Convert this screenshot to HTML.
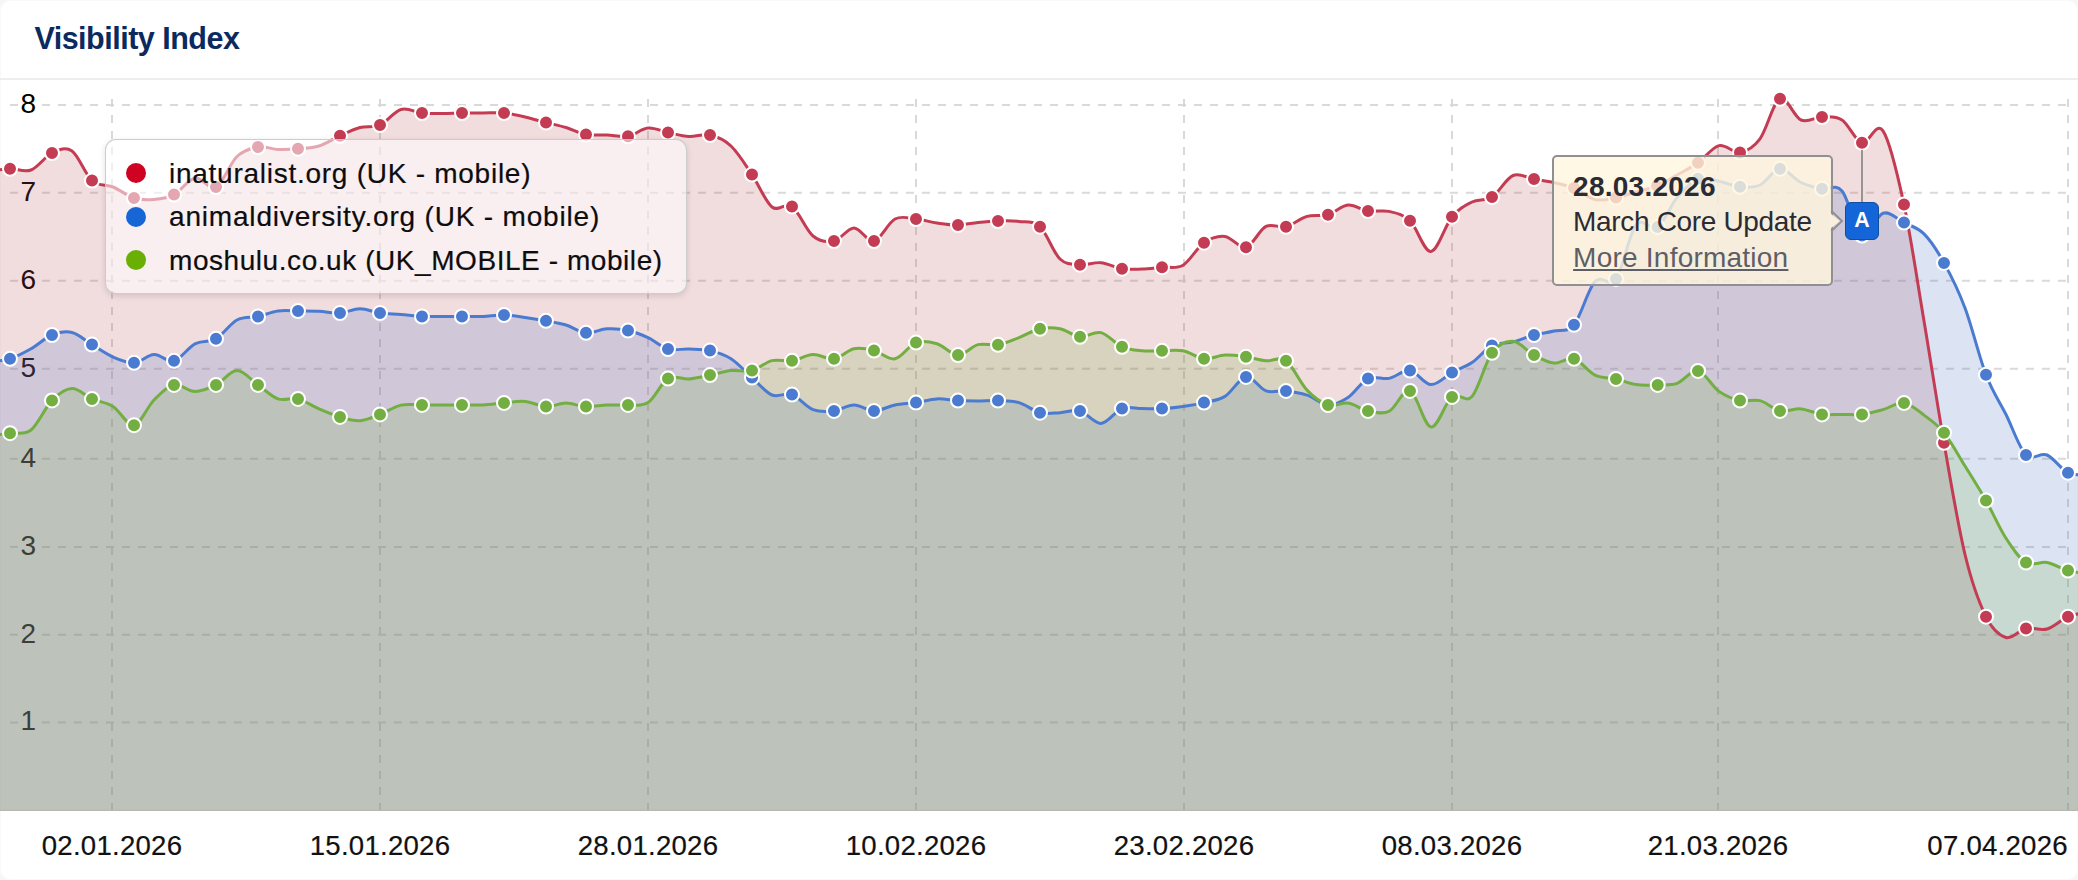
<!DOCTYPE html>
<html lang="en"><head><meta charset="utf-8"><title>Visibility Index</title>
<style>
html,body{margin:0;padding:0}
body{width:2078px;height:880px;overflow:hidden;background:#f6f6f6;font-family:"Liberation Sans",sans-serif;position:relative}
.card{position:absolute;left:0;top:0;width:2078px;height:880px;background:#fff;box-shadow:inset 0 0 0 1px #f9f9f9;border-radius:10.5px;overflow:hidden}
.title{position:absolute;left:34.4px;top:18px;font-size:30.5px;line-height:40px;font-weight:700;color:#0b2a5e;white-space:nowrap;letter-spacing:-0.5px}
.sep{position:absolute;left:0;top:77.7px;width:2078px;height:2.2px;background:#eeeeee}
.chart{position:absolute;left:0;top:0}
.yl text{font-size:28px;fill:#000}
.xl text{font-size:27.6px;fill:#111;letter-spacing:.25px;stroke:#111;stroke-width:.2px}
.legend{position:absolute;left:104.5px;top:138.5px;width:582.5px;height:155px;box-sizing:border-box;border:1.5px solid rgba(200,200,200,.9);border-radius:11px;background:rgba(255,255,255,.55);box-shadow:0 2px 6px rgba(0,0,0,.12)}
.legend .it{-webkit-text-stroke:.2px #0d0d0d;position:absolute;left:0;height:40px;line-height:40px;font-size:28px;color:#0d0d0d;white-space:nowrap}
.legend .dot{position:absolute;left:20px;width:20px;height:20px;border-radius:50%}
.legend .tx{position:absolute;left:63.5px;top:0}
.tip{position:absolute;left:1551.5px;top:155.2px;width:281.3px;height:130.8px;box-sizing:border-box;border:2px solid #909094;border-radius:5px;background:rgba(255,246,221,.8);color:#2b2b33}
.tip svg{position:absolute;left:277.5px;top:49.5px;overflow:visible}
.tip div{position:absolute;left:19.6px;white-space:nowrap;font-size:28px;line-height:36px}
.tip .d{top:11.6px;font-weight:700;letter-spacing:.25px}
.tip .n{top:46.7px;letter-spacing:-.34px}
.tip .m{top:82.5px;color:#5e5e66;text-decoration:underline;text-decoration-thickness:1.6px;text-underline-offset:2.2px;letter-spacing:.23px}
.flag{position:absolute;left:1845.2px;top:201.8px;width:33.8px;height:38px;box-sizing:border-box;border:1.6px solid #0f4fa0;border-radius:6px;background:#1465d8;color:#fff;font-weight:700;font-size:21.4px;line-height:34.2px;text-align:center}
</style></head><body>
<div class="card">
<div class="title">Visibility Index</div>
<div class="sep"></div>
<svg class="chart" width="2078" height="880" viewBox="0 0 2078 880">
<defs><clipPath id="plot"><rect x="0" y="80" width="2078" height="730.6"/></clipPath></defs>
<g stroke="#d9d9d9" stroke-width="2" stroke-dasharray="8 8" fill="none">
<path d="M10 105.0H18"/><path d="M42 105.0H2067"/>
<path d="M10 192.8H18"/><path d="M42 192.8H2067"/>
<path d="M10 280.8H18"/><path d="M42 280.8H2067"/>
<path d="M10 368.8H18"/><path d="M42 368.8H2067"/>
<path d="M10 458.8H18"/><path d="M42 458.8H2067"/>
<path d="M10 546.9H18"/><path d="M42 546.9H2067"/>
<path d="M10 634.7H18"/><path d="M42 634.7H2067"/>
<path d="M10 722.6H18"/><path d="M42 722.6H2067"/>
<path d="M112.0 99V810"/>
<path d="M380.0 99V810"/>
<path d="M648.0 99V810"/>
<path d="M916.0 99V810"/>
<path d="M1184.0 99V810"/>
<path d="M1452.0 99V810"/>
<path d="M1718.0 99V810"/>
<path d="M2068.0 99V810"/>
</g>
<g class="yl"><text x="20.6" y="112.8">8</text><text x="20.6" y="200.6">7</text><text x="20.6" y="288.6">6</text><text x="20.6" y="376.6">5</text><text x="20.6" y="466.6">4</text><text x="20.6" y="554.7">3</text><text x="20.6" y="642.5">2</text><text x="20.6" y="730.4">1</text></g>
<g clip-path="url(#plot)">
<path d="M-10.0 171.0C-6.7 170.6 3.2 169.0 10.0 168.8C16.8 168.6 24.0 172.6 31.0 170.0C38.0 167.4 45.2 156.2 52.0 153.0C58.8 149.8 65.3 146.4 72.0 151.0C78.7 155.6 85.2 174.6 92.0 180.6C98.8 186.6 106.0 184.1 113.0 187.0C120.0 189.9 127.2 195.9 134.0 198.0C140.8 200.1 147.3 200.1 154.0 199.5C160.7 198.9 167.2 198.2 174.0 194.6C180.8 191.0 188.0 179.3 195.0 178.0C202.0 176.7 209.0 190.6 216.0 187.0C223.0 183.4 230.0 163.2 237.0 156.5C244.0 149.8 251.2 148.2 258.0 147.0C264.8 145.8 271.3 149.2 278.0 149.5C284.7 149.8 291.2 149.4 298.0 148.8C304.8 148.2 312.0 148.2 319.0 146.0C326.0 143.8 333.2 138.9 340.0 135.8C346.8 132.7 353.3 129.3 360.0 127.5C366.7 125.7 373.2 128.0 380.0 125.0C386.8 122.0 394.0 111.5 401.0 109.5C408.0 107.5 415.2 112.3 422.0 113.0C428.8 113.7 435.3 113.5 442.0 113.5C448.7 113.5 455.2 113.1 462.0 113.0C468.8 112.9 476.0 113.0 483.0 113.0C490.0 113.0 497.0 112.3 504.0 113.0C511.0 113.7 518.0 115.4 525.0 117.0C532.0 118.6 539.2 120.8 546.0 122.5C552.8 124.2 559.3 125.5 566.0 127.5C572.7 129.5 579.2 133.2 586.0 134.5C592.8 135.8 600.0 134.7 607.0 135.0C614.0 135.3 621.2 137.5 628.0 136.3C634.8 135.1 641.3 128.6 648.0 128.0C654.7 127.4 661.2 131.1 668.0 132.5C674.8 133.9 682.0 136.1 689.0 136.5C696.0 136.9 703.0 133.4 710.0 135.0C717.0 136.6 724.0 139.4 731.0 146.0C738.0 152.6 745.2 164.4 752.0 174.6C758.8 184.8 765.3 201.7 772.0 207.0C778.7 212.3 785.2 201.8 792.0 206.6C798.8 211.4 806.0 230.3 813.0 236.0C820.0 241.7 827.2 242.3 834.0 241.0C840.8 239.7 847.3 228.0 854.0 228.0C860.7 228.0 867.2 242.5 874.0 241.0C880.8 239.5 888.0 222.7 895.0 219.0C902.0 215.3 909.0 218.3 916.0 219.0C923.0 219.7 930.0 222.0 937.0 223.0C944.0 224.0 951.2 225.1 958.0 225.0C964.8 224.9 971.3 223.2 978.0 222.5C984.7 221.8 991.2 221.2 998.0 221.0C1004.8 220.8 1012.0 220.5 1019.0 221.4C1026.0 222.3 1033.2 220.4 1040.0 226.7C1046.8 233.0 1053.3 252.7 1060.0 259.0C1066.7 265.3 1073.2 264.1 1080.0 264.7C1086.8 265.3 1094.0 262.0 1101.0 262.7C1108.0 263.4 1115.2 267.6 1122.0 268.7C1128.8 269.8 1135.3 269.2 1142.0 269.0C1148.7 268.8 1155.2 267.8 1162.0 267.2C1168.8 266.6 1176.0 269.3 1183.0 265.2C1190.0 261.1 1197.0 247.5 1204.0 242.7C1211.0 237.9 1218.0 235.7 1225.0 236.4C1232.0 237.2 1239.2 248.9 1246.0 247.2C1252.8 245.5 1259.3 229.8 1266.0 226.4C1272.7 223.0 1279.2 228.4 1286.0 226.7C1292.8 225.0 1300.0 218.4 1307.0 216.4C1314.0 214.4 1321.2 216.6 1328.0 214.7C1334.8 212.8 1341.3 205.6 1348.0 205.0C1354.7 204.4 1361.2 210.0 1368.0 211.1C1374.8 212.2 1382.0 209.8 1389.0 211.4C1396.0 213.0 1403.0 214.0 1410.0 220.7C1417.0 227.4 1424.0 252.1 1431.0 251.4C1438.0 250.7 1445.2 224.9 1452.0 216.7C1458.8 208.5 1465.3 205.3 1472.0 202.0C1478.7 198.7 1485.2 201.5 1492.0 197.1C1498.8 192.7 1506.0 178.5 1513.0 175.5C1520.0 172.5 1527.2 177.9 1534.0 179.1C1540.8 180.3 1547.3 181.1 1554.0 182.6C1560.7 184.1 1567.2 185.3 1574.0 188.1C1580.8 190.9 1588.0 198.0 1595.0 199.6C1602.0 201.2 1609.2 198.9 1616.0 197.6C1622.8 196.3 1629.2 193.9 1636.0 192.0C1642.8 190.1 1650.2 188.8 1657.0 186.0C1663.8 183.2 1670.2 178.9 1677.0 175.0C1683.8 171.1 1691.0 167.7 1698.0 162.8C1705.0 157.9 1712.0 147.3 1719.0 145.6C1726.0 143.9 1733.2 153.5 1740.0 152.4C1746.8 151.3 1753.3 147.7 1760.0 138.8C1766.7 129.9 1773.2 101.9 1780.0 98.8C1786.8 95.7 1794.0 117.0 1801.0 120.0C1808.0 123.0 1815.2 117.0 1822.0 117.0C1828.8 117.0 1835.3 115.7 1842.0 120.0C1848.7 124.3 1855.2 141.0 1862.0 142.8C1868.8 144.6 1876.0 120.5 1883.0 130.8C1890.0 141.1 1897.2 172.8 1904.0 204.5C1910.8 236.2 1917.3 281.3 1924.0 321.0C1930.7 360.7 1937.2 403.9 1944.0 442.8C1950.8 481.7 1958.0 525.5 1965.0 554.5C1972.0 583.5 1979.2 602.9 1986.0 616.7C1992.8 630.5 1999.3 635.5 2006.0 637.5C2012.7 639.5 2019.2 629.8 2026.0 628.4C2032.8 627.0 2040.0 631.0 2047.0 629.0C2054.0 627.0 2061.2 619.5 2068.0 616.7C2074.8 613.9 2084.7 612.8 2088.0 612.0L2088.0 810.0L-10.0 810.0Z" fill="#bb4e5a" fill-opacity="0.2"/>
<path d="M-10.0 362.0C-6.7 361.5 3.2 361.0 10.0 358.8C16.8 356.6 24.0 352.8 31.0 348.8C38.0 344.8 45.2 337.7 52.0 335.0C58.8 332.3 65.3 330.9 72.0 332.5C78.7 334.1 85.2 340.5 92.0 344.6C98.8 348.7 106.0 354.0 113.0 357.0C120.0 360.0 127.2 363.2 134.0 362.8C140.8 362.4 147.3 354.9 154.0 354.6C160.7 354.3 167.2 362.6 174.0 360.8C180.8 359.0 188.0 347.5 195.0 343.8C202.0 340.1 209.0 342.8 216.0 338.8C223.0 334.8 230.0 323.7 237.0 320.0C244.0 316.3 251.2 318.0 258.0 316.5C264.8 315.0 271.3 311.9 278.0 311.0C284.7 310.1 291.2 310.9 298.0 311.0C304.8 311.1 312.0 311.0 319.0 311.3C326.0 311.6 333.2 313.4 340.0 313.0C346.8 312.6 353.3 308.8 360.0 308.8C366.7 308.8 373.2 312.1 380.0 313.0C386.8 313.9 394.0 313.9 401.0 314.5C408.0 315.1 415.2 316.2 422.0 316.5C428.8 316.8 435.3 316.5 442.0 316.5C448.7 316.5 455.2 316.5 462.0 316.5C468.8 316.5 476.0 316.8 483.0 316.5C490.0 316.2 497.0 314.8 504.0 315.0C511.0 315.2 518.0 316.5 525.0 317.5C532.0 318.5 539.2 319.6 546.0 320.8C552.8 322.1 559.3 323.0 566.0 325.0C572.7 327.0 579.2 332.2 586.0 332.8C592.8 333.4 600.0 329.2 607.0 328.8C614.0 328.4 621.2 329.0 628.0 330.5C634.8 332.0 641.3 334.5 648.0 337.6C654.7 340.7 661.2 347.1 668.0 349.0C674.8 350.9 682.0 348.7 689.0 349.0C696.0 349.3 703.0 349.0 710.0 350.6C717.0 352.2 724.0 354.3 731.0 358.8C738.0 363.3 745.2 371.6 752.0 377.6C758.8 383.6 765.3 392.2 772.0 395.0C778.7 397.8 785.2 392.2 792.0 394.6C798.8 397.0 806.0 406.9 813.0 409.6C820.0 412.3 827.2 411.7 834.0 410.9C840.8 410.1 847.3 405.0 854.0 405.0C860.7 405.0 867.2 410.9 874.0 410.9C880.8 410.9 888.0 406.4 895.0 405.0C902.0 403.6 909.0 403.6 916.0 402.6C923.0 401.6 930.0 399.2 937.0 398.9C944.0 398.6 951.2 400.3 958.0 400.6C964.8 400.9 971.3 400.9 978.0 400.9C984.7 400.9 991.2 400.3 998.0 400.6C1004.8 400.9 1012.0 400.6 1019.0 402.6C1026.0 404.6 1033.2 411.0 1040.0 412.7C1046.8 414.4 1053.3 413.0 1060.0 412.7C1066.7 412.4 1073.2 409.1 1080.0 410.9C1086.8 412.7 1094.0 423.8 1101.0 423.4C1108.0 423.0 1115.2 411.1 1122.0 408.6C1128.8 406.1 1135.3 408.6 1142.0 408.6C1148.7 408.6 1155.2 409.0 1162.0 408.6C1168.8 408.2 1176.0 407.4 1183.0 406.4C1190.0 405.4 1197.0 404.3 1204.0 402.6C1211.0 400.9 1218.0 400.7 1225.0 396.4C1232.0 392.1 1239.2 377.8 1246.0 376.9C1252.8 376.0 1259.3 388.6 1266.0 390.9C1272.7 393.2 1279.2 390.2 1286.0 390.9C1292.8 391.6 1300.0 392.8 1307.0 395.1C1314.0 397.4 1321.2 404.5 1328.0 404.9C1334.8 405.3 1341.3 402.0 1348.0 397.6C1354.7 393.2 1361.2 381.8 1368.0 378.6C1374.8 375.4 1382.0 379.7 1389.0 378.4C1396.0 377.1 1403.0 369.6 1410.0 370.6C1417.0 371.6 1424.0 384.3 1431.0 384.6C1438.0 384.9 1445.2 376.3 1452.0 372.6C1458.8 368.9 1465.3 367.1 1472.0 362.6C1478.7 358.1 1485.2 349.1 1492.0 345.6C1498.8 342.1 1506.0 343.6 1513.0 341.8C1520.0 340.0 1527.2 336.8 1534.0 335.0C1540.8 333.2 1547.3 332.7 1554.0 331.0C1560.7 329.3 1567.2 333.1 1574.0 324.8C1580.8 316.6 1588.0 289.1 1595.0 281.5C1602.0 273.9 1609.2 288.3 1616.0 278.9C1622.8 269.5 1629.1 233.7 1636.0 225.0C1642.9 216.3 1650.8 231.5 1657.6 226.9C1664.4 222.3 1670.3 205.6 1677.0 197.6C1683.7 189.6 1691.0 181.5 1698.0 178.8C1705.0 176.1 1712.0 180.0 1719.0 181.3C1726.0 182.6 1733.2 186.2 1740.0 186.8C1746.8 187.4 1753.3 188.0 1760.0 185.0C1766.7 182.0 1773.2 169.2 1780.0 168.8C1786.8 168.4 1794.0 179.2 1801.0 182.5C1808.0 185.8 1815.2 187.4 1822.0 188.8C1828.8 190.2 1835.3 183.2 1842.0 191.0C1848.7 198.8 1855.2 231.8 1862.0 235.5C1868.8 239.2 1876.0 215.3 1883.0 213.2C1890.0 211.0 1897.2 219.1 1904.0 222.6C1910.8 226.1 1917.3 227.2 1924.0 233.9C1930.7 240.6 1937.2 250.5 1944.0 262.9C1950.8 275.2 1958.0 289.4 1965.0 308.0C1972.0 326.6 1979.2 357.1 1986.0 374.8C1992.8 392.6 1999.3 401.1 2006.0 414.5C2012.7 427.9 2019.2 448.1 2026.0 454.9C2032.8 461.6 2040.0 452.0 2047.0 455.0C2054.0 458.0 2061.2 469.4 2068.0 472.7C2074.8 476.0 2084.7 474.6 2088.0 475.0L2088.0 810.0L-10.0 810.0Z" fill="#5279ca" fill-opacity="0.2"/>
<path d="M-10.0 436.0C-6.7 435.5 3.2 434.2 10.0 433.2C16.8 432.2 24.0 435.5 31.0 430.0C38.0 424.5 45.2 407.3 52.0 400.4C58.8 393.5 65.3 388.9 72.0 388.6C78.7 388.4 85.2 395.9 92.0 398.9C98.8 401.9 106.0 402.0 113.0 406.4C120.0 410.8 127.2 426.3 134.0 425.2C140.8 424.1 147.3 406.7 154.0 400.0C160.7 393.3 167.2 386.3 174.0 384.9C180.8 383.5 188.0 391.4 195.0 391.4C202.0 391.4 209.0 388.4 216.0 384.9C223.0 381.4 230.0 370.6 237.0 370.6C244.0 370.6 251.2 380.2 258.0 384.9C264.8 389.6 271.3 396.6 278.0 398.9C284.7 401.2 291.2 397.2 298.0 398.9C304.8 400.6 312.0 405.9 319.0 408.9C326.0 411.9 333.2 414.9 340.0 416.9C346.8 418.9 353.3 421.1 360.0 420.7C366.7 420.3 373.2 417.0 380.0 414.4C386.8 411.8 394.0 406.7 401.0 405.1C408.0 403.5 415.2 404.9 422.0 404.9C428.8 404.9 435.3 404.9 442.0 404.9C448.7 404.9 455.2 404.9 462.0 404.9C468.8 404.9 476.0 405.2 483.0 404.9C490.0 404.6 497.0 403.5 504.0 402.9C511.0 402.3 518.0 400.8 525.0 401.4C532.0 402.0 539.2 406.3 546.0 406.6C552.8 406.9 559.3 403.1 566.0 403.1C572.7 403.1 579.2 406.3 586.0 406.6C592.8 406.9 600.0 405.4 607.0 405.1C614.0 404.8 621.2 405.3 628.0 404.9C634.8 404.5 641.3 407.0 648.0 402.6C654.7 398.2 661.2 382.6 668.0 378.6C674.8 374.7 682.0 379.5 689.0 378.9C696.0 378.3 703.0 376.5 710.0 375.1C717.0 373.7 724.0 371.4 731.0 370.6C738.0 369.9 745.2 372.3 752.0 370.6C758.8 368.9 765.3 362.2 772.0 360.6C778.7 359.0 785.2 361.8 792.0 360.8C798.8 359.8 806.0 354.9 813.0 354.6C820.0 354.3 827.2 359.8 834.0 358.8C840.8 357.8 847.3 350.2 854.0 348.8C860.7 347.4 867.2 348.9 874.0 350.6C880.8 352.3 888.0 360.1 895.0 358.8C902.0 357.5 909.0 345.1 916.0 342.6C923.0 340.1 930.0 341.7 937.0 343.8C944.0 345.9 951.2 355.0 958.0 355.1C964.8 355.2 971.3 346.3 978.0 344.6C984.7 342.9 991.2 346.0 998.0 344.8C1004.8 343.6 1012.0 340.3 1019.0 337.6C1026.0 334.9 1033.2 330.3 1040.0 328.8C1046.8 327.3 1053.3 327.5 1060.0 328.8C1066.7 330.1 1073.2 336.2 1080.0 336.8C1086.8 337.4 1094.0 330.9 1101.0 332.6C1108.0 334.3 1115.2 343.8 1122.0 346.8C1128.8 349.8 1135.3 350.1 1142.0 350.8C1148.7 351.5 1155.2 350.8 1162.0 350.8C1168.8 350.8 1176.0 349.5 1183.0 350.8C1190.0 352.1 1197.0 358.1 1204.0 358.8C1211.0 359.5 1218.0 355.4 1225.0 355.1C1232.0 354.8 1239.2 355.9 1246.0 356.8C1252.8 357.8 1259.3 360.1 1266.0 360.8C1272.7 361.5 1279.2 355.9 1286.0 360.8C1292.8 365.7 1300.0 382.8 1307.0 390.1C1314.0 397.5 1321.2 402.7 1328.0 404.9C1334.8 407.1 1341.3 402.1 1348.0 403.1C1354.7 404.1 1361.2 409.5 1368.0 410.9C1374.8 412.3 1382.0 414.7 1389.0 411.4C1396.0 408.1 1403.0 388.3 1410.0 390.9C1417.0 393.5 1424.0 425.9 1431.0 426.9C1438.0 427.9 1445.2 402.0 1452.0 396.9C1458.8 391.8 1465.3 403.8 1472.0 396.4C1478.7 389.0 1485.2 362.0 1492.0 352.8C1498.8 343.6 1506.0 340.9 1513.0 341.3C1520.0 341.7 1527.2 351.5 1534.0 355.1C1540.8 358.7 1547.3 362.5 1554.0 363.1C1560.7 363.7 1567.2 356.8 1574.0 358.8C1580.8 360.8 1588.0 371.8 1595.0 375.1C1602.0 378.5 1609.2 377.3 1616.0 378.9C1622.8 380.5 1629.0 383.6 1636.0 384.6C1643.0 385.6 1650.9 385.1 1657.7 384.9C1664.5 384.7 1670.3 385.7 1677.0 383.4C1683.7 381.1 1691.0 369.6 1698.0 370.9C1705.0 372.2 1712.0 386.4 1719.0 391.4C1726.0 396.3 1733.2 399.1 1740.0 400.6C1746.8 402.1 1753.3 398.9 1760.0 400.6C1766.7 402.3 1773.2 409.5 1780.0 410.9C1786.8 412.3 1794.0 408.3 1801.0 408.9C1808.0 409.5 1815.2 413.5 1822.0 414.4C1828.8 415.3 1835.3 414.4 1842.0 414.4C1848.7 414.4 1855.2 415.2 1862.0 414.4C1868.8 413.6 1876.0 411.5 1883.0 409.6C1890.0 407.7 1897.2 402.0 1904.0 402.9C1910.8 403.8 1917.3 410.1 1924.0 415.1C1930.7 420.1 1937.2 424.2 1944.0 432.7C1950.8 441.2 1958.0 454.7 1965.0 466.0C1972.0 477.3 1979.2 488.6 1986.0 500.6C1992.8 512.6 1999.3 527.9 2006.0 538.2C2012.7 548.5 2019.2 558.5 2026.0 562.5C2032.8 566.5 2040.0 561.2 2047.0 562.5C2054.0 563.8 2061.2 568.6 2068.0 570.5C2074.8 572.4 2084.7 573.4 2088.0 574.0L2088.0 810.0L-10.0 810.0Z" fill="#73ae42" fill-opacity="0.2"/>
<path d="M-10.0 171.0C-6.7 170.6 3.2 169.0 10.0 168.8C16.8 168.6 24.0 172.6 31.0 170.0C38.0 167.4 45.2 156.2 52.0 153.0C58.8 149.8 65.3 146.4 72.0 151.0C78.7 155.6 85.2 174.6 92.0 180.6C98.8 186.6 106.0 184.1 113.0 187.0C120.0 189.9 127.2 195.9 134.0 198.0C140.8 200.1 147.3 200.1 154.0 199.5C160.7 198.9 167.2 198.2 174.0 194.6C180.8 191.0 188.0 179.3 195.0 178.0C202.0 176.7 209.0 190.6 216.0 187.0C223.0 183.4 230.0 163.2 237.0 156.5C244.0 149.8 251.2 148.2 258.0 147.0C264.8 145.8 271.3 149.2 278.0 149.5C284.7 149.8 291.2 149.4 298.0 148.8C304.8 148.2 312.0 148.2 319.0 146.0C326.0 143.8 333.2 138.9 340.0 135.8C346.8 132.7 353.3 129.3 360.0 127.5C366.7 125.7 373.2 128.0 380.0 125.0C386.8 122.0 394.0 111.5 401.0 109.5C408.0 107.5 415.2 112.3 422.0 113.0C428.8 113.7 435.3 113.5 442.0 113.5C448.7 113.5 455.2 113.1 462.0 113.0C468.8 112.9 476.0 113.0 483.0 113.0C490.0 113.0 497.0 112.3 504.0 113.0C511.0 113.7 518.0 115.4 525.0 117.0C532.0 118.6 539.2 120.8 546.0 122.5C552.8 124.2 559.3 125.5 566.0 127.5C572.7 129.5 579.2 133.2 586.0 134.5C592.8 135.8 600.0 134.7 607.0 135.0C614.0 135.3 621.2 137.5 628.0 136.3C634.8 135.1 641.3 128.6 648.0 128.0C654.7 127.4 661.2 131.1 668.0 132.5C674.8 133.9 682.0 136.1 689.0 136.5C696.0 136.9 703.0 133.4 710.0 135.0C717.0 136.6 724.0 139.4 731.0 146.0C738.0 152.6 745.2 164.4 752.0 174.6C758.8 184.8 765.3 201.7 772.0 207.0C778.7 212.3 785.2 201.8 792.0 206.6C798.8 211.4 806.0 230.3 813.0 236.0C820.0 241.7 827.2 242.3 834.0 241.0C840.8 239.7 847.3 228.0 854.0 228.0C860.7 228.0 867.2 242.5 874.0 241.0C880.8 239.5 888.0 222.7 895.0 219.0C902.0 215.3 909.0 218.3 916.0 219.0C923.0 219.7 930.0 222.0 937.0 223.0C944.0 224.0 951.2 225.1 958.0 225.0C964.8 224.9 971.3 223.2 978.0 222.5C984.7 221.8 991.2 221.2 998.0 221.0C1004.8 220.8 1012.0 220.5 1019.0 221.4C1026.0 222.3 1033.2 220.4 1040.0 226.7C1046.8 233.0 1053.3 252.7 1060.0 259.0C1066.7 265.3 1073.2 264.1 1080.0 264.7C1086.8 265.3 1094.0 262.0 1101.0 262.7C1108.0 263.4 1115.2 267.6 1122.0 268.7C1128.8 269.8 1135.3 269.2 1142.0 269.0C1148.7 268.8 1155.2 267.8 1162.0 267.2C1168.8 266.6 1176.0 269.3 1183.0 265.2C1190.0 261.1 1197.0 247.5 1204.0 242.7C1211.0 237.9 1218.0 235.7 1225.0 236.4C1232.0 237.2 1239.2 248.9 1246.0 247.2C1252.8 245.5 1259.3 229.8 1266.0 226.4C1272.7 223.0 1279.2 228.4 1286.0 226.7C1292.8 225.0 1300.0 218.4 1307.0 216.4C1314.0 214.4 1321.2 216.6 1328.0 214.7C1334.8 212.8 1341.3 205.6 1348.0 205.0C1354.7 204.4 1361.2 210.0 1368.0 211.1C1374.8 212.2 1382.0 209.8 1389.0 211.4C1396.0 213.0 1403.0 214.0 1410.0 220.7C1417.0 227.4 1424.0 252.1 1431.0 251.4C1438.0 250.7 1445.2 224.9 1452.0 216.7C1458.8 208.5 1465.3 205.3 1472.0 202.0C1478.7 198.7 1485.2 201.5 1492.0 197.1C1498.8 192.7 1506.0 178.5 1513.0 175.5C1520.0 172.5 1527.2 177.9 1534.0 179.1C1540.8 180.3 1547.3 181.1 1554.0 182.6C1560.7 184.1 1567.2 185.3 1574.0 188.1C1580.8 190.9 1588.0 198.0 1595.0 199.6C1602.0 201.2 1609.2 198.9 1616.0 197.6C1622.8 196.3 1629.2 193.9 1636.0 192.0C1642.8 190.1 1650.2 188.8 1657.0 186.0C1663.8 183.2 1670.2 178.9 1677.0 175.0C1683.8 171.1 1691.0 167.7 1698.0 162.8C1705.0 157.9 1712.0 147.3 1719.0 145.6C1726.0 143.9 1733.2 153.5 1740.0 152.4C1746.8 151.3 1753.3 147.7 1760.0 138.8C1766.7 129.9 1773.2 101.9 1780.0 98.8C1786.8 95.7 1794.0 117.0 1801.0 120.0C1808.0 123.0 1815.2 117.0 1822.0 117.0C1828.8 117.0 1835.3 115.7 1842.0 120.0C1848.7 124.3 1855.2 141.0 1862.0 142.8C1868.8 144.6 1876.0 120.5 1883.0 130.8C1890.0 141.1 1897.2 172.8 1904.0 204.5C1910.8 236.2 1917.3 281.3 1924.0 321.0C1930.7 360.7 1937.2 403.9 1944.0 442.8C1950.8 481.7 1958.0 525.5 1965.0 554.5C1972.0 583.5 1979.2 602.9 1986.0 616.7C1992.8 630.5 1999.3 635.5 2006.0 637.5C2012.7 639.5 2019.2 629.8 2026.0 628.4C2032.8 627.0 2040.0 631.0 2047.0 629.0C2054.0 627.0 2061.2 619.5 2068.0 616.7C2074.8 613.9 2084.7 612.8 2088.0 612.0" fill="none" stroke="#c43c53" stroke-width="3" stroke-linejoin="round"/>
<g fill="#c43c53" stroke="#fff" stroke-width="2"><circle cx="10.0" cy="168.8" r="7"/><circle cx="52.0" cy="153.0" r="7"/><circle cx="92.0" cy="180.6" r="7"/><circle cx="134.0" cy="198.0" r="7"/><circle cx="174.0" cy="194.6" r="7"/><circle cx="216.0" cy="187.0" r="7"/><circle cx="258.0" cy="147.0" r="7"/><circle cx="298.0" cy="148.8" r="7"/><circle cx="340.0" cy="135.8" r="7"/><circle cx="380.0" cy="125.0" r="7"/><circle cx="422.0" cy="113.0" r="7"/><circle cx="462.0" cy="113.0" r="7"/><circle cx="504.0" cy="113.0" r="7"/><circle cx="546.0" cy="122.5" r="7"/><circle cx="586.0" cy="134.5" r="7"/><circle cx="628.0" cy="136.3" r="7"/><circle cx="668.0" cy="132.5" r="7"/><circle cx="710.0" cy="135.0" r="7"/><circle cx="752.0" cy="174.6" r="7"/><circle cx="792.0" cy="206.6" r="7"/><circle cx="834.0" cy="241.0" r="7"/><circle cx="874.0" cy="241.0" r="7"/><circle cx="916.0" cy="219.0" r="7"/><circle cx="958.0" cy="225.0" r="7"/><circle cx="998.0" cy="221.0" r="7"/><circle cx="1040.0" cy="226.7" r="7"/><circle cx="1080.0" cy="264.7" r="7"/><circle cx="1122.0" cy="268.7" r="7"/><circle cx="1162.0" cy="267.2" r="7"/><circle cx="1204.0" cy="242.7" r="7"/><circle cx="1246.0" cy="247.2" r="7"/><circle cx="1286.0" cy="226.7" r="7"/><circle cx="1328.0" cy="214.7" r="7"/><circle cx="1368.0" cy="211.1" r="7"/><circle cx="1410.0" cy="220.7" r="7"/><circle cx="1452.0" cy="216.7" r="7"/><circle cx="1492.0" cy="197.1" r="7"/><circle cx="1534.0" cy="179.1" r="7"/><circle cx="1574.0" cy="188.1" r="7"/><circle cx="1616.0" cy="197.6" r="7"/><circle cx="1657.0" cy="186.0" r="7"/><circle cx="1698.0" cy="162.8" r="7"/><circle cx="1740.0" cy="152.4" r="7"/><circle cx="1780.0" cy="98.8" r="7"/><circle cx="1822.0" cy="117.0" r="7"/><circle cx="1862.0" cy="142.8" r="7"/><circle cx="1904.0" cy="204.5" r="7"/><circle cx="1944.0" cy="442.8" r="7"/><circle cx="1986.0" cy="616.7" r="7"/><circle cx="2026.0" cy="628.4" r="7"/><circle cx="2068.0" cy="616.7" r="7"/></g>
<path d="M-10.0 362.0C-6.7 361.5 3.2 361.0 10.0 358.8C16.8 356.6 24.0 352.8 31.0 348.8C38.0 344.8 45.2 337.7 52.0 335.0C58.8 332.3 65.3 330.9 72.0 332.5C78.7 334.1 85.2 340.5 92.0 344.6C98.8 348.7 106.0 354.0 113.0 357.0C120.0 360.0 127.2 363.2 134.0 362.8C140.8 362.4 147.3 354.9 154.0 354.6C160.7 354.3 167.2 362.6 174.0 360.8C180.8 359.0 188.0 347.5 195.0 343.8C202.0 340.1 209.0 342.8 216.0 338.8C223.0 334.8 230.0 323.7 237.0 320.0C244.0 316.3 251.2 318.0 258.0 316.5C264.8 315.0 271.3 311.9 278.0 311.0C284.7 310.1 291.2 310.9 298.0 311.0C304.8 311.1 312.0 311.0 319.0 311.3C326.0 311.6 333.2 313.4 340.0 313.0C346.8 312.6 353.3 308.8 360.0 308.8C366.7 308.8 373.2 312.1 380.0 313.0C386.8 313.9 394.0 313.9 401.0 314.5C408.0 315.1 415.2 316.2 422.0 316.5C428.8 316.8 435.3 316.5 442.0 316.5C448.7 316.5 455.2 316.5 462.0 316.5C468.8 316.5 476.0 316.8 483.0 316.5C490.0 316.2 497.0 314.8 504.0 315.0C511.0 315.2 518.0 316.5 525.0 317.5C532.0 318.5 539.2 319.6 546.0 320.8C552.8 322.1 559.3 323.0 566.0 325.0C572.7 327.0 579.2 332.2 586.0 332.8C592.8 333.4 600.0 329.2 607.0 328.8C614.0 328.4 621.2 329.0 628.0 330.5C634.8 332.0 641.3 334.5 648.0 337.6C654.7 340.7 661.2 347.1 668.0 349.0C674.8 350.9 682.0 348.7 689.0 349.0C696.0 349.3 703.0 349.0 710.0 350.6C717.0 352.2 724.0 354.3 731.0 358.8C738.0 363.3 745.2 371.6 752.0 377.6C758.8 383.6 765.3 392.2 772.0 395.0C778.7 397.8 785.2 392.2 792.0 394.6C798.8 397.0 806.0 406.9 813.0 409.6C820.0 412.3 827.2 411.7 834.0 410.9C840.8 410.1 847.3 405.0 854.0 405.0C860.7 405.0 867.2 410.9 874.0 410.9C880.8 410.9 888.0 406.4 895.0 405.0C902.0 403.6 909.0 403.6 916.0 402.6C923.0 401.6 930.0 399.2 937.0 398.9C944.0 398.6 951.2 400.3 958.0 400.6C964.8 400.9 971.3 400.9 978.0 400.9C984.7 400.9 991.2 400.3 998.0 400.6C1004.8 400.9 1012.0 400.6 1019.0 402.6C1026.0 404.6 1033.2 411.0 1040.0 412.7C1046.8 414.4 1053.3 413.0 1060.0 412.7C1066.7 412.4 1073.2 409.1 1080.0 410.9C1086.8 412.7 1094.0 423.8 1101.0 423.4C1108.0 423.0 1115.2 411.1 1122.0 408.6C1128.8 406.1 1135.3 408.6 1142.0 408.6C1148.7 408.6 1155.2 409.0 1162.0 408.6C1168.8 408.2 1176.0 407.4 1183.0 406.4C1190.0 405.4 1197.0 404.3 1204.0 402.6C1211.0 400.9 1218.0 400.7 1225.0 396.4C1232.0 392.1 1239.2 377.8 1246.0 376.9C1252.8 376.0 1259.3 388.6 1266.0 390.9C1272.7 393.2 1279.2 390.2 1286.0 390.9C1292.8 391.6 1300.0 392.8 1307.0 395.1C1314.0 397.4 1321.2 404.5 1328.0 404.9C1334.8 405.3 1341.3 402.0 1348.0 397.6C1354.7 393.2 1361.2 381.8 1368.0 378.6C1374.8 375.4 1382.0 379.7 1389.0 378.4C1396.0 377.1 1403.0 369.6 1410.0 370.6C1417.0 371.6 1424.0 384.3 1431.0 384.6C1438.0 384.9 1445.2 376.3 1452.0 372.6C1458.8 368.9 1465.3 367.1 1472.0 362.6C1478.7 358.1 1485.2 349.1 1492.0 345.6C1498.8 342.1 1506.0 343.6 1513.0 341.8C1520.0 340.0 1527.2 336.8 1534.0 335.0C1540.8 333.2 1547.3 332.7 1554.0 331.0C1560.7 329.3 1567.2 333.1 1574.0 324.8C1580.8 316.6 1588.0 289.1 1595.0 281.5C1602.0 273.9 1609.2 288.3 1616.0 278.9C1622.8 269.5 1629.1 233.7 1636.0 225.0C1642.9 216.3 1650.8 231.5 1657.6 226.9C1664.4 222.3 1670.3 205.6 1677.0 197.6C1683.7 189.6 1691.0 181.5 1698.0 178.8C1705.0 176.1 1712.0 180.0 1719.0 181.3C1726.0 182.6 1733.2 186.2 1740.0 186.8C1746.8 187.4 1753.3 188.0 1760.0 185.0C1766.7 182.0 1773.2 169.2 1780.0 168.8C1786.8 168.4 1794.0 179.2 1801.0 182.5C1808.0 185.8 1815.2 187.4 1822.0 188.8C1828.8 190.2 1835.3 183.2 1842.0 191.0C1848.7 198.8 1855.2 231.8 1862.0 235.5C1868.8 239.2 1876.0 215.3 1883.0 213.2C1890.0 211.0 1897.2 219.1 1904.0 222.6C1910.8 226.1 1917.3 227.2 1924.0 233.9C1930.7 240.6 1937.2 250.5 1944.0 262.9C1950.8 275.2 1958.0 289.4 1965.0 308.0C1972.0 326.6 1979.2 357.1 1986.0 374.8C1992.8 392.6 1999.3 401.1 2006.0 414.5C2012.7 427.9 2019.2 448.1 2026.0 454.9C2032.8 461.6 2040.0 452.0 2047.0 455.0C2054.0 458.0 2061.2 469.4 2068.0 472.7C2074.8 476.0 2084.7 474.6 2088.0 475.0" fill="none" stroke="#4b7bd0" stroke-width="3" stroke-linejoin="round"/>
<g fill="#4b7bd0" stroke="#fff" stroke-width="2"><circle cx="10.0" cy="358.8" r="7"/><circle cx="52.0" cy="335.0" r="7"/><circle cx="92.0" cy="344.6" r="7"/><circle cx="134.0" cy="362.8" r="7"/><circle cx="174.0" cy="360.8" r="7"/><circle cx="216.0" cy="338.8" r="7"/><circle cx="258.0" cy="316.5" r="7"/><circle cx="298.0" cy="311.0" r="7"/><circle cx="340.0" cy="313.0" r="7"/><circle cx="380.0" cy="313.0" r="7"/><circle cx="422.0" cy="316.5" r="7"/><circle cx="462.0" cy="316.5" r="7"/><circle cx="504.0" cy="315.0" r="7"/><circle cx="546.0" cy="320.8" r="7"/><circle cx="586.0" cy="332.8" r="7"/><circle cx="628.0" cy="330.5" r="7"/><circle cx="668.0" cy="349.0" r="7"/><circle cx="710.0" cy="350.6" r="7"/><circle cx="752.0" cy="377.6" r="7"/><circle cx="792.0" cy="394.6" r="7"/><circle cx="834.0" cy="410.9" r="7"/><circle cx="874.0" cy="410.9" r="7"/><circle cx="916.0" cy="402.6" r="7"/><circle cx="958.0" cy="400.6" r="7"/><circle cx="998.0" cy="400.6" r="7"/><circle cx="1040.0" cy="412.7" r="7"/><circle cx="1080.0" cy="410.9" r="7"/><circle cx="1122.0" cy="408.6" r="7"/><circle cx="1162.0" cy="408.6" r="7"/><circle cx="1204.0" cy="402.6" r="7"/><circle cx="1246.0" cy="376.9" r="7"/><circle cx="1286.0" cy="390.9" r="7"/><circle cx="1328.0" cy="404.9" r="7"/><circle cx="1368.0" cy="378.6" r="7"/><circle cx="1410.0" cy="370.6" r="7"/><circle cx="1452.0" cy="372.6" r="7"/><circle cx="1492.0" cy="345.6" r="7"/><circle cx="1534.0" cy="335.0" r="7"/><circle cx="1574.0" cy="324.8" r="7"/><circle cx="1616.0" cy="278.9" r="7"/><circle cx="1657.6" cy="226.9" r="7"/><circle cx="1698.0" cy="178.8" r="7"/><circle cx="1740.0" cy="186.8" r="7"/><circle cx="1780.0" cy="168.8" r="7"/><circle cx="1822.0" cy="188.8" r="7"/><circle cx="1862.0" cy="235.5" r="7"/><circle cx="1904.0" cy="222.6" r="7"/><circle cx="1944.0" cy="262.9" r="7"/><circle cx="1986.0" cy="374.8" r="7"/><circle cx="2026.0" cy="454.9" r="7"/><circle cx="2068.0" cy="472.7" r="7"/></g>
<path d="M-10.0 436.0C-6.7 435.5 3.2 434.2 10.0 433.2C16.8 432.2 24.0 435.5 31.0 430.0C38.0 424.5 45.2 407.3 52.0 400.4C58.8 393.5 65.3 388.9 72.0 388.6C78.7 388.4 85.2 395.9 92.0 398.9C98.8 401.9 106.0 402.0 113.0 406.4C120.0 410.8 127.2 426.3 134.0 425.2C140.8 424.1 147.3 406.7 154.0 400.0C160.7 393.3 167.2 386.3 174.0 384.9C180.8 383.5 188.0 391.4 195.0 391.4C202.0 391.4 209.0 388.4 216.0 384.9C223.0 381.4 230.0 370.6 237.0 370.6C244.0 370.6 251.2 380.2 258.0 384.9C264.8 389.6 271.3 396.6 278.0 398.9C284.7 401.2 291.2 397.2 298.0 398.9C304.8 400.6 312.0 405.9 319.0 408.9C326.0 411.9 333.2 414.9 340.0 416.9C346.8 418.9 353.3 421.1 360.0 420.7C366.7 420.3 373.2 417.0 380.0 414.4C386.8 411.8 394.0 406.7 401.0 405.1C408.0 403.5 415.2 404.9 422.0 404.9C428.8 404.9 435.3 404.9 442.0 404.9C448.7 404.9 455.2 404.9 462.0 404.9C468.8 404.9 476.0 405.2 483.0 404.9C490.0 404.6 497.0 403.5 504.0 402.9C511.0 402.3 518.0 400.8 525.0 401.4C532.0 402.0 539.2 406.3 546.0 406.6C552.8 406.9 559.3 403.1 566.0 403.1C572.7 403.1 579.2 406.3 586.0 406.6C592.8 406.9 600.0 405.4 607.0 405.1C614.0 404.8 621.2 405.3 628.0 404.9C634.8 404.5 641.3 407.0 648.0 402.6C654.7 398.2 661.2 382.6 668.0 378.6C674.8 374.7 682.0 379.5 689.0 378.9C696.0 378.3 703.0 376.5 710.0 375.1C717.0 373.7 724.0 371.4 731.0 370.6C738.0 369.9 745.2 372.3 752.0 370.6C758.8 368.9 765.3 362.2 772.0 360.6C778.7 359.0 785.2 361.8 792.0 360.8C798.8 359.8 806.0 354.9 813.0 354.6C820.0 354.3 827.2 359.8 834.0 358.8C840.8 357.8 847.3 350.2 854.0 348.8C860.7 347.4 867.2 348.9 874.0 350.6C880.8 352.3 888.0 360.1 895.0 358.8C902.0 357.5 909.0 345.1 916.0 342.6C923.0 340.1 930.0 341.7 937.0 343.8C944.0 345.9 951.2 355.0 958.0 355.1C964.8 355.2 971.3 346.3 978.0 344.6C984.7 342.9 991.2 346.0 998.0 344.8C1004.8 343.6 1012.0 340.3 1019.0 337.6C1026.0 334.9 1033.2 330.3 1040.0 328.8C1046.8 327.3 1053.3 327.5 1060.0 328.8C1066.7 330.1 1073.2 336.2 1080.0 336.8C1086.8 337.4 1094.0 330.9 1101.0 332.6C1108.0 334.3 1115.2 343.8 1122.0 346.8C1128.8 349.8 1135.3 350.1 1142.0 350.8C1148.7 351.5 1155.2 350.8 1162.0 350.8C1168.8 350.8 1176.0 349.5 1183.0 350.8C1190.0 352.1 1197.0 358.1 1204.0 358.8C1211.0 359.5 1218.0 355.4 1225.0 355.1C1232.0 354.8 1239.2 355.9 1246.0 356.8C1252.8 357.8 1259.3 360.1 1266.0 360.8C1272.7 361.5 1279.2 355.9 1286.0 360.8C1292.8 365.7 1300.0 382.8 1307.0 390.1C1314.0 397.5 1321.2 402.7 1328.0 404.9C1334.8 407.1 1341.3 402.1 1348.0 403.1C1354.7 404.1 1361.2 409.5 1368.0 410.9C1374.8 412.3 1382.0 414.7 1389.0 411.4C1396.0 408.1 1403.0 388.3 1410.0 390.9C1417.0 393.5 1424.0 425.9 1431.0 426.9C1438.0 427.9 1445.2 402.0 1452.0 396.9C1458.8 391.8 1465.3 403.8 1472.0 396.4C1478.7 389.0 1485.2 362.0 1492.0 352.8C1498.8 343.6 1506.0 340.9 1513.0 341.3C1520.0 341.7 1527.2 351.5 1534.0 355.1C1540.8 358.7 1547.3 362.5 1554.0 363.1C1560.7 363.7 1567.2 356.8 1574.0 358.8C1580.8 360.8 1588.0 371.8 1595.0 375.1C1602.0 378.5 1609.2 377.3 1616.0 378.9C1622.8 380.5 1629.0 383.6 1636.0 384.6C1643.0 385.6 1650.9 385.1 1657.7 384.9C1664.5 384.7 1670.3 385.7 1677.0 383.4C1683.7 381.1 1691.0 369.6 1698.0 370.9C1705.0 372.2 1712.0 386.4 1719.0 391.4C1726.0 396.3 1733.2 399.1 1740.0 400.6C1746.8 402.1 1753.3 398.9 1760.0 400.6C1766.7 402.3 1773.2 409.5 1780.0 410.9C1786.8 412.3 1794.0 408.3 1801.0 408.9C1808.0 409.5 1815.2 413.5 1822.0 414.4C1828.8 415.3 1835.3 414.4 1842.0 414.4C1848.7 414.4 1855.2 415.2 1862.0 414.4C1868.8 413.6 1876.0 411.5 1883.0 409.6C1890.0 407.7 1897.2 402.0 1904.0 402.9C1910.8 403.8 1917.3 410.1 1924.0 415.1C1930.7 420.1 1937.2 424.2 1944.0 432.7C1950.8 441.2 1958.0 454.7 1965.0 466.0C1972.0 477.3 1979.2 488.6 1986.0 500.6C1992.8 512.6 1999.3 527.9 2006.0 538.2C2012.7 548.5 2019.2 558.5 2026.0 562.5C2032.8 566.5 2040.0 561.2 2047.0 562.5C2054.0 563.8 2061.2 568.6 2068.0 570.5C2074.8 572.4 2084.7 573.4 2088.0 574.0" fill="none" stroke="#73ae42" stroke-width="3" stroke-linejoin="round"/>
<g fill="#73ae42" stroke="#fff" stroke-width="2"><circle cx="10.0" cy="433.2" r="7"/><circle cx="52.0" cy="400.4" r="7"/><circle cx="92.0" cy="398.9" r="7"/><circle cx="134.0" cy="425.2" r="7"/><circle cx="174.0" cy="384.9" r="7"/><circle cx="216.0" cy="384.9" r="7"/><circle cx="258.0" cy="384.9" r="7"/><circle cx="298.0" cy="398.9" r="7"/><circle cx="340.0" cy="416.9" r="7"/><circle cx="380.0" cy="414.4" r="7"/><circle cx="422.0" cy="404.9" r="7"/><circle cx="462.0" cy="404.9" r="7"/><circle cx="504.0" cy="402.9" r="7"/><circle cx="546.0" cy="406.6" r="7"/><circle cx="586.0" cy="406.6" r="7"/><circle cx="628.0" cy="404.9" r="7"/><circle cx="668.0" cy="378.6" r="7"/><circle cx="710.0" cy="375.1" r="7"/><circle cx="752.0" cy="370.6" r="7"/><circle cx="792.0" cy="360.8" r="7"/><circle cx="834.0" cy="358.8" r="7"/><circle cx="874.0" cy="350.6" r="7"/><circle cx="916.0" cy="342.6" r="7"/><circle cx="958.0" cy="355.1" r="7"/><circle cx="998.0" cy="344.8" r="7"/><circle cx="1040.0" cy="328.8" r="7"/><circle cx="1080.0" cy="336.8" r="7"/><circle cx="1122.0" cy="346.8" r="7"/><circle cx="1162.0" cy="350.8" r="7"/><circle cx="1204.0" cy="358.8" r="7"/><circle cx="1246.0" cy="356.8" r="7"/><circle cx="1286.0" cy="360.8" r="7"/><circle cx="1328.0" cy="404.9" r="7"/><circle cx="1368.0" cy="410.9" r="7"/><circle cx="1410.0" cy="390.9" r="7"/><circle cx="1452.0" cy="396.9" r="7"/><circle cx="1492.0" cy="352.8" r="7"/><circle cx="1534.0" cy="355.1" r="7"/><circle cx="1574.0" cy="358.8" r="7"/><circle cx="1616.0" cy="378.9" r="7"/><circle cx="1657.7" cy="384.9" r="7"/><circle cx="1698.0" cy="370.9" r="7"/><circle cx="1740.0" cy="400.6" r="7"/><circle cx="1780.0" cy="410.9" r="7"/><circle cx="1822.0" cy="414.4" r="7"/><circle cx="1862.0" cy="414.4" r="7"/><circle cx="1904.0" cy="402.9" r="7"/><circle cx="1944.0" cy="432.7" r="7"/><circle cx="1986.0" cy="500.6" r="7"/><circle cx="2026.0" cy="562.5" r="7"/><circle cx="2068.0" cy="570.5" r="7"/></g>
</g>
<path d="M0 810.3H2078" stroke="#b4b9b2" stroke-width="1.2"/>
<g class="xl"><text x="112.0" y="854.7" text-anchor="middle">02.01.2026</text><text x="380.0" y="854.7" text-anchor="middle">15.01.2026</text><text x="648.0" y="854.7" text-anchor="middle">28.01.2026</text><text x="916.0" y="854.7" text-anchor="middle">10.02.2026</text><text x="1184.0" y="854.7" text-anchor="middle">23.02.2026</text><text x="1452.0" y="854.7" text-anchor="middle">08.03.2026</text><text x="1718.0" y="854.7" text-anchor="middle">21.03.2026</text><text x="2067.9" y="854.7" text-anchor="end">07.04.2026</text></g>
<path d="M1862 150V203" stroke="#828282" stroke-width="1.6"/>
</svg>

<div class="legend">
<div class="it" style="top:14px"><span class="dot" style="top:9px;background:#cf0222"></span><span class="tx" id="l1" style="letter-spacing:.74px">inaturalist.org (UK - mobile)</span></div>
<div class="it" style="top:57.5px"><span class="dot" style="top:10.2px;background:#1666d6"></span><span class="tx" id="l2" style="letter-spacing:.82px">animaldiversity.org (UK - mobile)</span></div>
<div class="it" style="top:101px"><span class="dot" style="top:9.6px;background:#6ab004"></span><span class="tx" id="l3" style="letter-spacing:.56px">moshulu.co.uk (UK_MOBILE - mobile)</span></div>
</div>
<div class="tip"><svg width="14" height="28" viewBox="0 0 14 28"><path d="M-2.2 5.2V22.8L9 14Z" fill="#f9efdc"/><path d="M0.2 3.8L11 14L0.2 24.2" fill="none" stroke="#909094" stroke-width="2" stroke-linejoin="miter"/></svg><div class="d" id="t1">28.03.2026</div><div class="n" id="t2">March Core Update</div><div class="m" id="t3">More Information</div></div>
<div class="flag">A</div>
</div>
</body></html>
